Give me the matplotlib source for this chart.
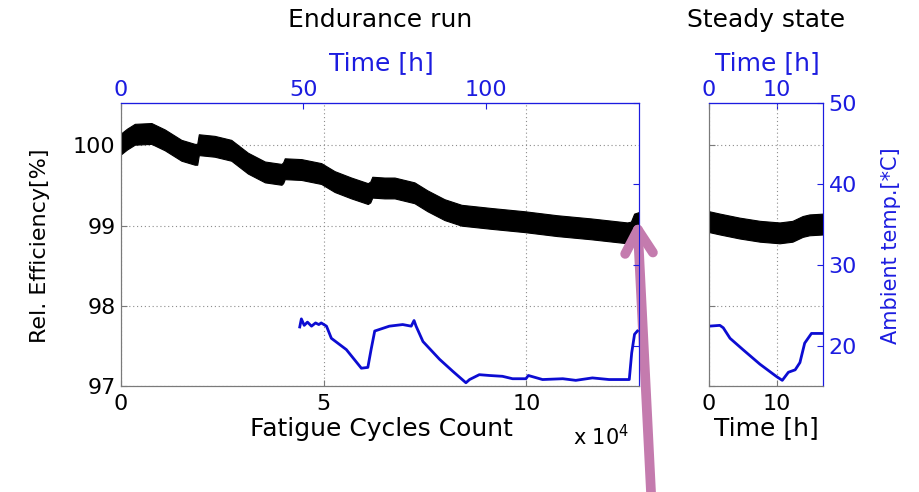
import matplotlib
matplotlib.use("Agg")
import matplotlib.pyplot as plt
import numpy as np

# endurance run: efficiency band centre vs fatigue cycles (x 1e4)
cycles = [0.0, 0.15, 0.34, 0.75, 1.08, 1.49, 1.82, 1.88, 1.92, 2.31, 2.72, 3.13, 3.55,
          3.96, 4.0, 4.04, 4.45, 4.94, 5.27, 5.68, 6.09, 6.15, 6.2, 6.5, 6.75, 7.24,
          7.56, 7.98, 8.4, 9.14, 9.95, 10.76, 11.6, 12.49, 12.58, 12.66, 12.78]
efficiency = [100.02, 100.08, 100.14, 100.15, 100.07, 99.94, 99.89, 99.89, 100.01, 99.99,
              99.94, 99.78, 99.67, 99.64, 99.66, 99.71, 99.70, 99.65, 99.55, 99.47, 99.40,
              99.42, 99.48, 99.47, 99.47, 99.41, 99.31, 99.20, 99.13, 99.09, 99.05, 99.00,
              98.96, 98.91, 98.92, 99.02, 99.04]

# endurance run: ambient temperature [C] vs fatigue cycles (x 1e4)
temp_cycles = [4.41, 4.45, 4.52, 4.6, 4.7, 4.8, 4.88, 4.94, 5.07, 5.19, 5.56, 5.93, 6.09,
               6.17, 6.26, 6.38, 6.62, 6.95, 7.16, 7.23, 7.28, 7.45, 7.86, 8.19, 8.51,
               8.6, 8.84, 9.09, 9.41, 9.66, 9.99, 10.05, 10.4, 10.9, 11.22, 11.63, 12.04,
               12.54, 12.6, 12.67, 12.74]
temp_run = [22.3, 23.3, 22.5, 22.9, 22.4, 22.8, 22.6, 22.8, 22.4, 20.9, 19.5, 17.2, 17.3,
            19.5, 21.8, 22.0, 22.4, 22.6, 22.4, 23.1, 22.4, 20.5, 18.3, 16.8, 15.4,
            15.8, 16.4, 16.3, 16.2, 15.9, 15.9, 16.3, 15.8, 15.9, 15.7, 16.0, 15.8,
            15.8, 19.1, 21.4, 21.8]

# steady state: efficiency and ambient temperature vs time [h]
steady_t = [0.0, 1.6, 4.5, 7.5, 10.4, 12.3, 13.8, 14.8, 16.8]
steady_eff = [99.05, 99.02, 98.97, 98.93, 98.91, 98.93, 98.99, 99.01, 99.02]
steady_temp_t = [0.0, 1.6, 2.1, 3.1, 5.0, 7.5, 9.9, 10.8, 11.7, 12.7, 13.4, 14.1, 15.1, 16.8]
steady_temp = [22.4, 22.5, 22.2, 20.9, 19.5, 17.7, 16.2, 15.7, 16.7, 17.0, 17.9, 20.3, 21.5, 21.5]

eff_ticks = [97, 98, 99, 100]
temp_ticks = [20, 30, 40, 50]
run_hours_max = 142.0
run_cycles_max = 12.78
steady_hours_max = 16.8

W, H = 919, 492
BLUE = "#1c1ce0"
LINE_BLUE = "#0c0cd2"
SPINE = "#7a7a7a"
GRID = dict(color="#8c8c8c", linestyle=(0, (1, 2.5)), linewidth=0.8)
FS = 16
BAND = 0.13  # half width of the noisy efficiency trace

plt.rcParams["font.family"] = ["DejaVu Sans"]

fig = plt.figure(figsize=(W / 100, H / 100), dpi=100)


def px(x, y):
    return x / W, 1 - y / H


def style_spines(ax):
    ax.spines["left"].set_color(SPINE)
    ax.spines["bottom"].set_color(SPINE)
    ax.spines["top"].set_color(BLUE)
    ax.spines["right"].set_color(BLUE)
    for s in ax.spines.values():
        s.set_linewidth(0.8)


def band(ax, x, y):
    y = np.asarray(y)
    ax.fill_between(x, y - BAND, y + BAND, color="black", lw=0.8, zorder=3)


# ---------------- endurance run ----------------
ax1 = fig.add_axes([121 / W, 1 - 386 / H, 518 / W, 283 / H])
band(ax1, cycles, efficiency)
ax1.set_xlim(0, run_cycles_max)
ax1.set_ylim(97, 100.53)
ax1.set_xticks([0, 5, 10])
ax1.set_xticklabels(["0", "5", "10"])
ax1.set_yticks(eff_ticks)
ax1.grid(True, **GRID)
ax1.tick_params(direction="in", length=4, width=0.8, labelsize=FS, color=SPINE)
ax1.tick_params(axis="x", pad=6)
ax1.tick_params(axis="y", pad=4)
style_spines(ax1)

ax1t = ax1.twinx()
ax1t.plot(temp_cycles, temp_run, color=LINE_BLUE, lw=2)
ax1t.set_ylim(15, 50)
ax1t.set_yticks(temp_ticks)
ax1t.set_yticklabels([])
ax1t.tick_params(direction="in", length=4, width=0.8, color=BLUE)
style_spines(ax1t)

k = run_hours_max / run_cycles_max
top1 = ax1.secondary_xaxis("top", functions=(lambda c: c * k, lambda h: h / k))
top1.set_xticks([0, 50, 100])
top1.tick_params(direction="in", length=4, width=0.8, labelsize=FS, colors=BLUE, pad=2)
top1.spines["top"].set_color(BLUE)

# ---------------- steady state ----------------
ax2 = fig.add_axes([709 / W, 1 - 386 / H, 114 / W, 283 / H])
band(ax2, steady_t, steady_eff)
ax2.set_xlim(0, steady_hours_max)
ax2.set_ylim(97, 100.53)
ax2.set_xticks([0, 10])
ax2.set_yticks(eff_ticks)
ax2.set_yticklabels([])
ax2.grid(True, **GRID)
ax2.tick_params(direction="in", length=4, width=0.8, labelsize=FS, color=SPINE)
ax2.tick_params(axis="x", pad=6)
style_spines(ax2)

ax2t = ax2.twinx()
ax2t.plot(steady_temp_t, steady_temp, color=LINE_BLUE, lw=2)
ax2t.set_ylim(15, 50)
ax2t.set_yticks(temp_ticks)
ax2t.tick_params(direction="in", length=4, width=0.8, labelsize=FS, colors=BLUE, pad=4)
style_spines(ax2t)

top2 = ax2.secondary_xaxis("top")
top2.set_xticks([0, 10])
top2.tick_params(direction="in", length=4, width=0.8, labelsize=FS, colors=BLUE, pad=2)
top2.spines["top"].set_color(BLUE)

# ---------------- labels ----------------
fig.text(*px(380, 20), "Endurance run", fontsize=18, ha="center", va="center")
fig.text(*px(766, 20), "Steady state", fontsize=18, ha="center", va="center")
fig.text(*px(381, 63), "Time [h]", fontsize=18, color=BLUE, ha="center", va="center")
fig.text(*px(767, 63), "Time [h]", fontsize=18, color=BLUE, ha="center", va="center")
fig.text(*px(381, 429), "Fatigue Cycles Count", fontsize=18, ha="center", va="center")
fig.text(*px(766, 428), "Time [h]", fontsize=18, ha="center", va="center")
fig.text(*px(601, 437), r"x 10$^4$", fontsize=15, ha="center", va="center")
fig.text(*px(40, 246), "Rel. Efficiency[%]", fontsize=16, rotation=90,
         ha="center", va="center")
fig.text(*px(891, 246), "Ambient temp.[*C]", fontsize=15, rotation=90,
         color=BLUE, ha="center", va="center")

# pink arrow pointing at the end of the endurance run
ax1.annotate("", xy=(12.74, 99.07), xycoords="data",
             xytext=px(651, 492), textcoords="figure fraction",
             arrowprops=dict(arrowstyle="->,head_length=1.7,head_width=1.0",
                             lw=7, color="#c47bae", shrinkA=0, shrinkB=0),
             annotation_clip=False)

fig.savefig("out.png", dpi=100)
